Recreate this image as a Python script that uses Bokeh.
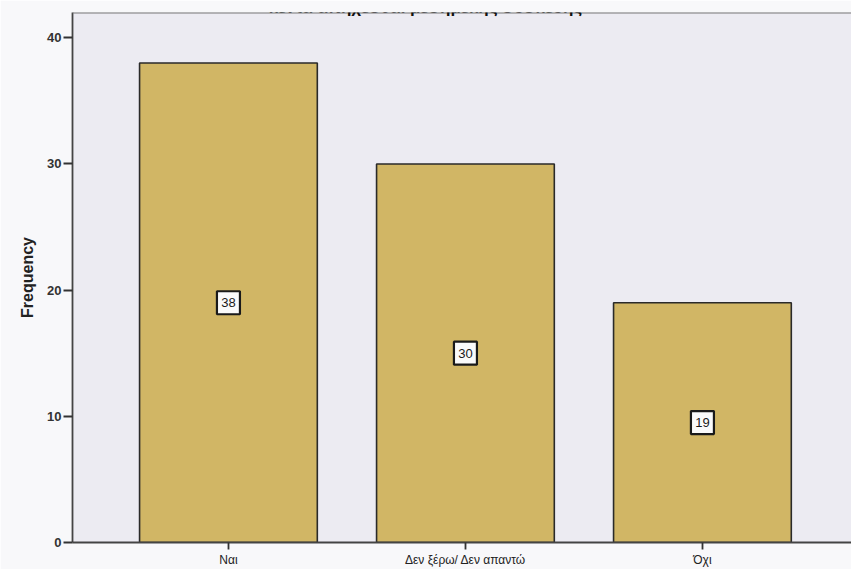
from bokeh.plotting import figure
from bokeh.models import ColumnDataSource, FixedTicker, Span, Label, Range1d
from bokeh.core.properties import value
from bokeh.embed import file_html
from bokeh.resources import INLINE

# Survey answers and their counts
categories = ["Ναι", "Δεν ξέρω/ Δεν απαντώ", "Όχι"]
frequencies = [38, 30, 19]
y_ticks = [0, 10, 20, 30, 40]
chart_title = "κέντα απήχεσθαι μεσημεκής συσκευής"

xs = list(range(len(categories)))
src = ColumnDataSource(dict(
    x=xs,
    top=frequencies,
    mid=[f / 2 for f in frequencies],
    txt=[str(f) for f in frequencies],
))

p = figure(
    width=851, height=569,
    x_range=Range1d(-0.658, 2.629),
    y_range=Range1d(0, 42),
    output_backend="svg", toolbar_location=None,
    min_border_left=72, min_border_right=0,
    min_border_top=12, min_border_bottom=26,
)
p.background_fill_color = "#ECEBF2"
p.border_fill_color = "#F8F8FA"
p.outline_line_color = None
p.grid.visible = False

# Bars
p.vbar(x="x", top="top", bottom=0, width=0.75, source=src,
       fill_color="#D1B665", line_color="#2a2a2a", line_width=1.6)

# Boxed count labels at half height
p.scatter(x="x", y="mid", source=src, marker="square", size=23,
          fill_color="#FAFAFA", line_color="#1a1a1a", line_width=2.2)
p.text(x="x", y="mid", text="txt", source=src,
       text_align="center", text_baseline="middle",
       text_font=value("Liberation Sans"), text_font_size="13px",
       text_color="#1a1a1a")

# Frame top line
p.add_layout(Span(location=42, dimension="width",
                  line_color="#777777", line_width=2))

# Title sitting above the frame (its upper part runs off the page)
p.add_layout(Label(x=0.831, y=42.36, text=chart_title,
                   text_align="center", text_baseline="alphabetic",
                   text_font="Liberation Sans", text_font_style="bold",
                   text_font_size="17px", text_color="#111111"))

# Y axis
yax = p.yaxis[0]
yax.ticker = FixedTicker(ticks=y_ticks)
yax.minor_tick_line_color = None
yax.major_tick_in = 0
yax.major_tick_out = 9
yax.major_tick_line_width = 1.8
yax.major_tick_line_color = "#333333"
yax.axis_line_color = "#444444"
yax.axis_line_width = 1.8
yax.major_label_text_font = "Liberation Sans"
yax.major_label_text_font_style = "bold"
yax.major_label_text_font_size = "13px"
yax.major_label_text_color = "#333333"
yax.major_label_standoff = 2
yax.axis_label = "Frequency"
yax.axis_label_text_font = "Liberation Sans"
yax.axis_label_text_font_style = "bold"
yax.axis_label_text_font_size = "16px"
yax.axis_label_text_color = "#222222"
yax.axis_label_standoff = 8

# X axis
xax = p.xaxis[0]
xax.ticker = FixedTicker(ticks=xs)
xax.major_label_overrides = {i: c for i, c in zip(xs, categories)}
xax.minor_tick_line_color = None
xax.major_tick_in = 0
xax.major_tick_out = 7
xax.major_tick_line_width = 1.8
xax.major_tick_line_color = "#333333"
xax.axis_line_color = "#444444"
xax.axis_line_width = 1.8
xax.major_label_text_font = "Liberation Sans"
xax.major_label_text_font_size = "12px"
xax.major_label_text_color = "#222222"
xax.major_label_standoff = 3

open("out.html", "w").write(file_html(p, INLINE))
